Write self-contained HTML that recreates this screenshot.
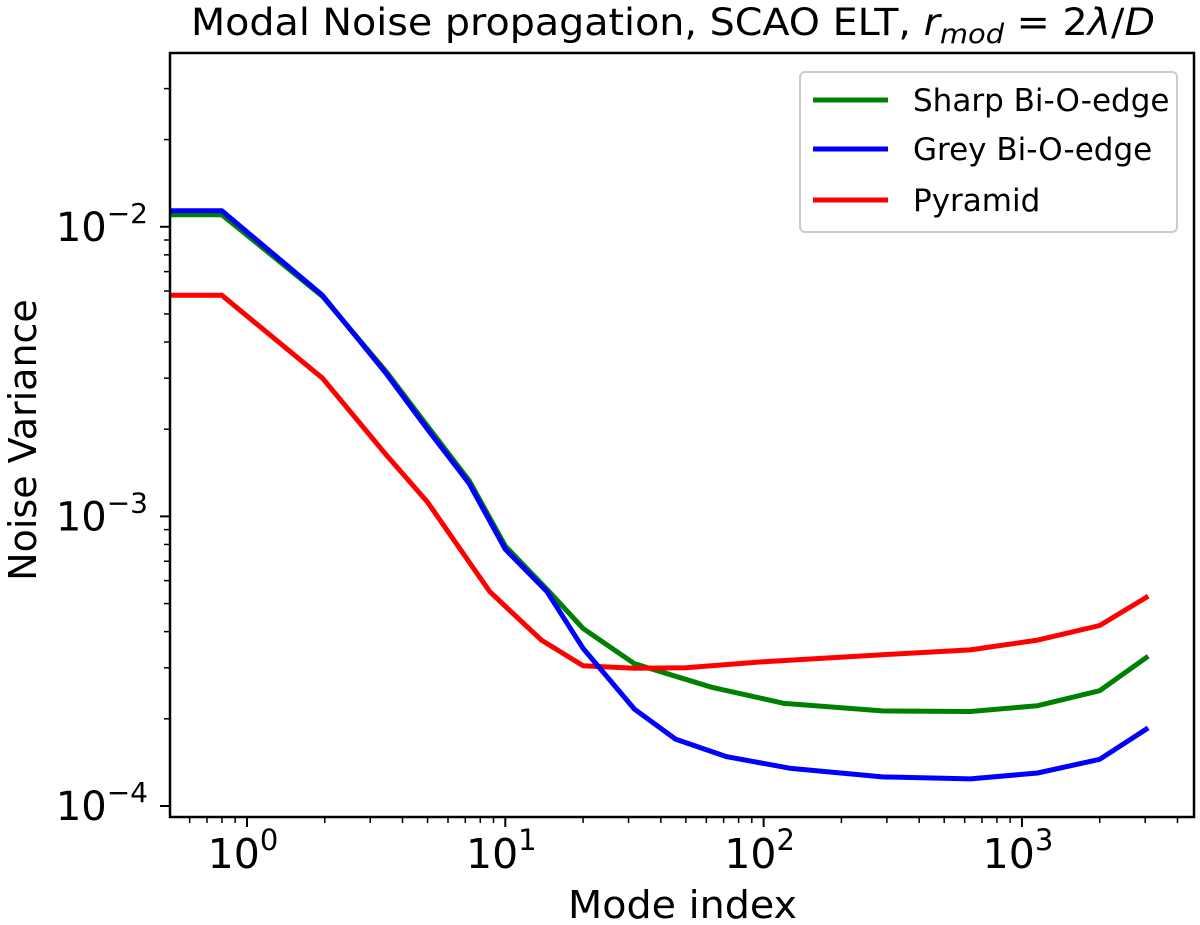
<!DOCTYPE html>
<html><head><meta charset="utf-8"><style>
body{margin:0;background:#fff;}
svg{display:block;font-family:"DejaVu Sans","Liberation Sans",sans-serif;}
</style></head><body>
<svg id="chart" width="1200" height="925" viewBox="0 0 1200 925" xmlns="http://www.w3.org/2000/svg">
<text x="191" y="35" font-size="37" textLength="964" lengthAdjust="spacingAndGlyphs">Modal Noise propagation, SCAO ELT, <tspan font-style="italic">r</tspan><tspan font-style="italic" font-size="27" dy="8">mod</tspan><tspan dy="-8"> = 2</tspan><tspan font-style="italic">λ</tspan>/<tspan font-style="italic">D</tspan></text>
<text x="568" y="918" font-size="38" textLength="229" lengthAdjust="spacingAndGlyphs">Mode index</text>
<text transform="translate(36,440) rotate(-90)" font-size="38" text-anchor="middle">Noise Variance</text>
<g id="grid"></g>
<g id="series"></g>
<rect x="170" y="53" width="1024" height="764" fill="none" stroke="#000" stroke-width="2.5"/>
<g id="legend">
<rect x="800" y="72" width="377" height="160" rx="5" fill="#fff" stroke="#ccc" stroke-width="2"/>
</g>
</svg>
<script>
const modeSharpX=[0.5,0.8,1.96,3.47,5.0,7.24,10,14.5,20,31.6,63,120,288,630,1150,2000,3080];
const sharpVals=[0.0110,0.0110,5.75e-3,3.15e-3,2.05e-3,1.33e-3,7.9e-4,5.6e-4,4.1e-4,3.1e-4,2.57e-4,2.26e-4,2.13e-4,2.12e-4,2.22e-4,2.5e-4,3.29e-4];
const modeGreyX=[0.5,0.8,1.96,3.47,5.0,7.24,10,14.5,20,31.6,45.7,72,126,288,631,1150,2000,3080];
const greyVals=[0.01135,0.01135,5.8e-3,3.1e-3,2.0e-3,1.3e-3,7.7e-4,5.5e-4,3.5e-4,2.16e-4,1.7e-4,1.48e-4,1.35e-4,1.26e-4,1.24e-4,1.3e-4,1.45e-4,1.86e-4];
const modePyrX=[0.5,0.8,1.96,3.4,5.0,8.7,13.8,20,31.6,50,100,288,630,1150,2000,3080];
const pyrVals=[5.8e-3,5.8e-3,3.0e-3,1.66e-3,1.12e-3,5.5e-4,3.74e-4,3.05e-4,2.99e-4,3.0e-4,3.15e-4,3.33e-4,3.46e-4,3.74e-4,4.2e-4,5.3e-4];
const xTickLabels=["0","1","2","3"];
const yTickLabels=["-4","-3","-2"];
const legendLabels=["Sharp Bi-O-edge","Grey Bi-O-edge","Pyramid"];

const NS="http://www.w3.org/2000/svg";
const L=170,R=1194,T=53,B=817;
const xmin=-0.298,xmax=3.666,ymin=-4.038,ymax=-1.4;
function xs(v){return L+(Math.log10(v)-xmin)/(xmax-xmin)*(R-L);}
function ys(v){return B-(Math.log10(v)-ymin)/(ymax-ymin)*(B-T);}
function mk(tag,attrs,parent){const e=document.createElementNS(NS,tag);for(const k in attrs)e.setAttribute(k,attrs[k]);parent.appendChild(e);return e;}
const grid=document.getElementById('grid');
for(let d=-1;d<=3;d++){for(let m=1;m<=9;m++){const v=m*Math.pow(10,d);const lv=Math.log10(v);if(lv<xmin||lv>xmax)continue;const x=xs(v);
const t=mk('line',{x1:x,x2:x,y1:B,y2:B+(m===1?10:6),stroke:'#000','stroke-width':m===1?2:1.5},grid);

}}
xTickLabels.forEach(p=>{const x=xs(Math.pow(10,+p));const tx=mk('text',{x:x-4,y:868,'font-size':41,'text-anchor':'middle'},grid);


tx.innerHTML='10<tspan dy="-18" font-size="29">'+p+'</tspan>';});
for(let d=-5;d<=-1;d++){for(let m=1;m<=9;m++){const v=m*Math.pow(10,d);const lv=Math.log10(v);if(lv<ymin||lv>ymax)continue;const y=ys(v);
const t=mk('line',{x1:L,x2:L-(m===1?10:6),y1:y,y2:y,stroke:'#000','stroke-width':m===1?2:1.5},grid);

}}
yTickLabels.forEach(p=>{const y=ys(Math.pow(10,+p));const tx=mk('text',{x:148,y:y+14,'font-size':40,'text-anchor':'end'},grid);


tx.innerHTML='10<tspan dy="-18" font-size="28">−'+p.slice(1)+'</tspan>';});
const ser=document.getElementById('series');
function draw(xsA,vals,color,name){const d=xsA.map((x,i)=>(i?'L':'M')+xs(x).toFixed(1)+','+ys(vals[i]).toFixed(1)).join(' ');
const p=mk('path',{d:d,fill:'none',stroke:color,'stroke-width':5,'stroke-linejoin':'round'},ser);

}
draw(modeSharpX,sharpVals,'#008000','sharp-bi-o-edge-line');
draw(modePyrX,pyrVals,'#ff0000','pyramid-line');
draw(modeGreyX,greyVals,'#0000ff','grey-bi-o-edge-line');
const leg=document.getElementById('legend');const cols=['#008000','#0000ff','#ff0000'];const rows=[100,149,200];
legendLabels.forEach((lab,i)=>{const ln=mk('line',{x1:813,x2:888,y1:rows[i],y2:rows[i],stroke:cols[i],'stroke-width':5},leg);


const t=mk('text',{x:913,y:rows[i]+11,'font-size':31},leg);t.textContent=lab;

});
</script>
</body></html>
